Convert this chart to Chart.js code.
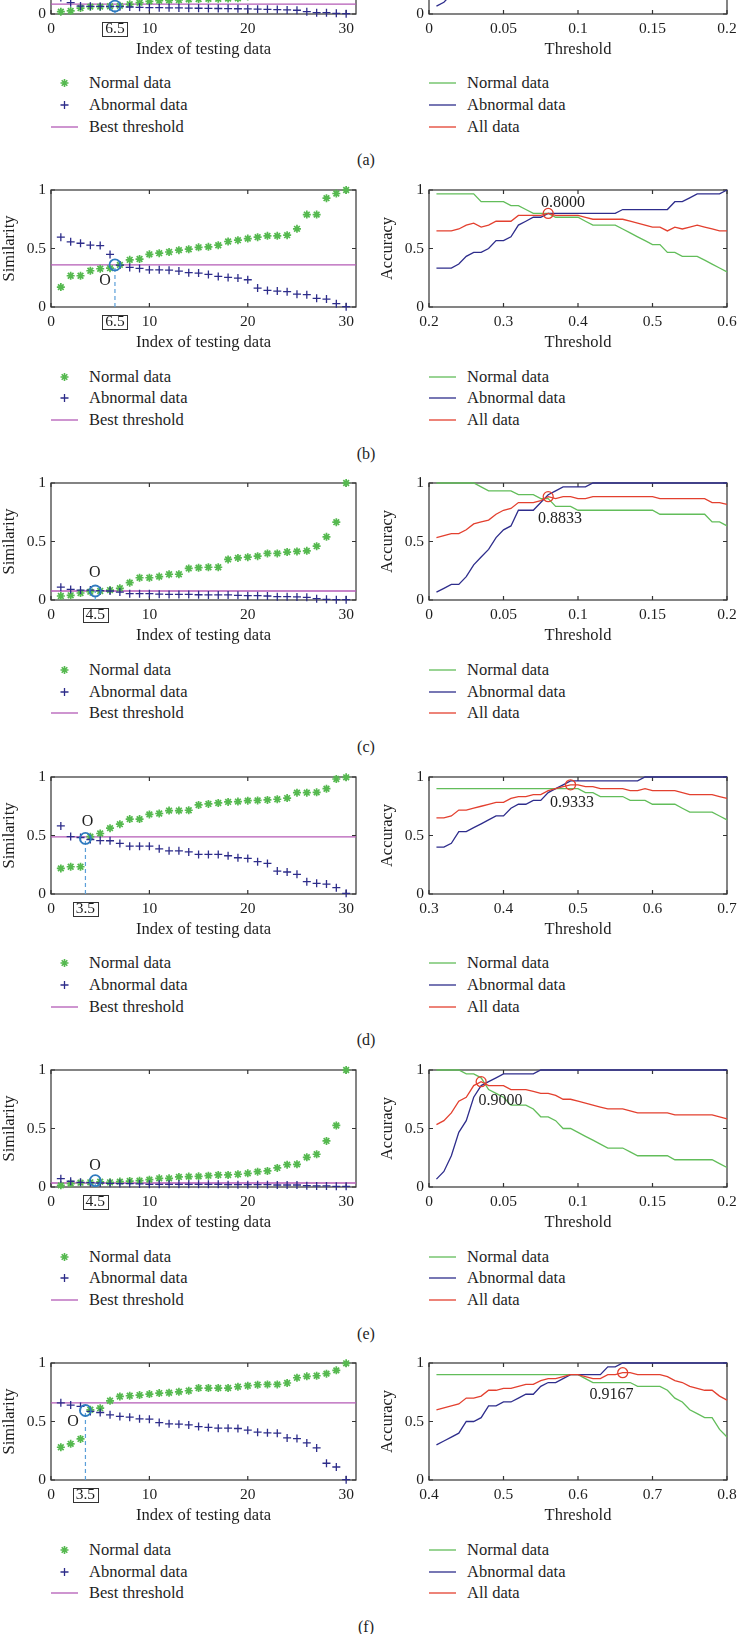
<!DOCTYPE html>
<html>
<head>
<meta charset="utf-8">
<title>Similarity and accuracy versus threshold</title>
<script src="https://cdn.jsdelivr.net/npm/chart.js@4.4.1/dist/chart.umd.min.js"></script>
<style>
  html, body { margin: 0; padding: 0; background: #fff; }
  body { width: 737px; height: 1634px; position: relative; overflow: hidden;
         font-family: 'Liberation Serif', 'DejaVu Serif', serif; color: #1e1e1e; }
  canvas { position: absolute; }
  .legend { position: absolute; font-size: 16.5px; }
  .legend .row { display: flex; align-items: center; height: 21.7px; white-space: nowrap; }
  .legend svg { width: 27px; height: 14px; margin-right: 11px; flex: none; }
  .tag { position: absolute; width: 40px; margin-left: -20px; text-align: center; font-size: 16px; line-height: 20px; }
</style>
</head>
<body>
<script>
// ---- data ----
const testIndex = [1,2,3,4,5,6,7,8,9,10,11,12,13,14,15,16,17,18,19,20,21,22,23,24,25,26,27,28,29,30];
const simTicksX = [0, 10, 20, 30];
const unitTicksY = [0, 0.5, 1];

const simNormalA   = [0.02,0.026,0.051,0.063,0.063,0.066,0.07,0.083,0.097,0.108,0.114,0.117,0.12,0.125,0.128,0.13,0.13,0.132,0.135,0.15,0.17,0.19,0.2,0.22,0.25,0.3,0.36,0.45,0.6,1.0];
const simAbnormalA = [0.14,0.097,0.068,0.066,0.065,0.064,0.063,0.06,0.057,0.055,0.054,0.053,0.052,0.05,0.049,0.048,0.047,0.046,0.045,0.043,0.041,0.04,0.038,0.035,0.032,0.02,0.011,0.011,0.006,0.003];
const simNormalB   = [0.17,0.267,0.267,0.31,0.327,0.332,0.36,0.403,0.41,0.45,0.46,0.47,0.486,0.494,0.51,0.514,0.528,0.56,0.571,0.585,0.597,0.608,0.608,0.614,0.668,0.79,0.79,0.93,0.97,1.0];
const simAbnormalB = [0.597,0.557,0.545,0.528,0.525,0.449,0.358,0.338,0.33,0.318,0.318,0.315,0.307,0.293,0.29,0.278,0.261,0.253,0.247,0.233,0.162,0.142,0.136,0.131,0.11,0.105,0.074,0.068,0.028,0.003];
const simNormalC   = [0.034,0.04,0.06,0.071,0.077,0.085,0.1,0.148,0.19,0.19,0.2,0.22,0.22,0.27,0.276,0.28,0.28,0.347,0.36,0.366,0.375,0.398,0.398,0.41,0.415,0.42,0.46,0.54,0.665,1.0];
const simAbnormalC = [0.11,0.09,0.085,0.085,0.08,0.077,0.068,0.054,0.054,0.054,0.05,0.048,0.048,0.048,0.045,0.043,0.043,0.043,0.04,0.037,0.037,0.034,0.028,0.028,0.026,0.023,0.011,0.006,0.003,0.003];
const simNormalD   = [0.219,0.233,0.233,0.49,0.517,0.563,0.597,0.64,0.64,0.68,0.688,0.713,0.713,0.716,0.761,0.77,0.778,0.787,0.79,0.798,0.8,0.804,0.81,0.82,0.866,0.866,0.869,0.9,0.983,0.997];
const simAbnormalD = [0.582,0.491,0.483,0.466,0.457,0.455,0.432,0.409,0.409,0.409,0.386,0.369,0.369,0.36,0.338,0.338,0.338,0.327,0.31,0.304,0.276,0.261,0.196,0.188,0.168,0.105,0.091,0.085,0.054,0.006];
const simNormalE   = [0.014,0.029,0.037,0.04,0.045,0.04,0.046,0.051,0.054,0.063,0.074,0.074,0.086,0.089,0.091,0.097,0.103,0.103,0.109,0.117,0.131,0.137,0.163,0.191,0.194,0.254,0.28,0.394,0.526,1.0];
const simAbnormalE = [0.071,0.049,0.04,0.037,0.034,0.031,0.029,0.029,0.026,0.023,0.023,0.023,0.023,0.023,0.023,0.023,0.023,0.02,0.02,0.02,0.02,0.02,0.017,0.017,0.017,0.011,0.009,0.009,0.006,0.006];
const simNormalF   = [0.28,0.309,0.351,0.6,0.614,0.677,0.714,0.72,0.726,0.734,0.743,0.746,0.754,0.763,0.786,0.786,0.786,0.786,0.797,0.806,0.814,0.817,0.817,0.829,0.874,0.886,0.891,0.909,0.937,0.997];
const simAbnormalF = [0.66,0.64,0.629,0.586,0.577,0.557,0.543,0.537,0.523,0.52,0.491,0.48,0.477,0.471,0.457,0.449,0.443,0.443,0.44,0.426,0.409,0.403,0.4,0.36,0.354,0.317,0.274,0.143,0.111,0.003];

const lowThresholds = [0.005,0.01,0.015,0.02,0.025,0.03,0.035,0.04,0.045,0.05,0.055,0.06,0.065,0.07,0.075,0.08,0.085,0.09,0.095,0.1,
                       0.105,0.11,0.115,0.12,0.125,0.13,0.135,0.14,0.145,0.15,0.155,0.16,0.165,0.17,0.175,0.18,0.185,0.19,0.195,0.2];
const thresholdsB = [0.21,0.22,0.23,0.24,0.25,0.26,0.27,0.28,0.29,0.3,0.31,0.32,0.33,0.34,0.35,0.36,0.37,0.38,0.39,0.4,
                     0.41,0.42,0.43,0.44,0.45,0.46,0.47,0.48,0.49,0.5,0.51,0.52,0.53,0.54,0.55,0.56,0.57,0.58,0.59,0.6];
const thresholdsD = [0.31,0.32,0.33,0.34,0.35,0.36,0.37,0.38,0.39,0.4,0.41,0.42,0.43,0.44,0.45,0.46,0.47,0.48,0.49,0.5,
                     0.51,0.52,0.53,0.54,0.55,0.56,0.57,0.58,0.59,0.6,0.61,0.62,0.63,0.64,0.65,0.66,0.67,0.68,0.69,0.7];
const thresholdsF = [0.41,0.42,0.43,0.44,0.45,0.46,0.47,0.48,0.49,0.5,0.51,0.52,0.53,0.54,0.55,0.56,0.57,0.58,0.59,0.6,
                     0.61,0.62,0.63,0.64,0.65,0.66,0.67,0.68,0.69,0.7,0.71,0.72,0.73,0.74,0.75,0.76,0.77,0.78,0.79,0.8];
const accTicksLow = [0, 0.05, 0.1, 0.15, 0.2];
const accTicksB = [0.2, 0.3, 0.4, 0.5, 0.6];
const accTicksD = [0.3, 0.4, 0.5, 0.6, 0.7];
const accTicksF = [0.4, 0.5, 0.6, 0.7, 0.8];

const accNormalA   = [1,1,1,1,1,1,1,0.967,0.967,0.933,0.933,0.9,0.9,0.867,0.867,0.833,0.833,0.8,0.8,0.8,0.767,0.767,0.767,0.733,0.733,0.733,0.7,0.7,0.7,0.7,0.667,0.667,0.667,0.633,0.633,0.633,0.6,0.6,0.6,0.567];
const accAbnormalA = [0.067,0.1,0.167,0.267,0.4,0.533,0.667,0.767,0.833,0.867,0.9,0.933,0.933,0.967,0.967,0.967,1,1,1,1,1,1,1,1,1,1,1,1,1,1,1,1,1,1,1,1,1,1,1,1];
const accAllA      = [0.533,0.55,0.583,0.633,0.7,0.767,0.833,0.867,0.9,0.9,0.917,0.917,0.917,0.917,0.917,0.9,0.917,0.9,0.9,0.9,0.883,0.883,0.883,0.867,0.867,0.867,0.85,0.85,0.85,0.85,0.833,0.833,0.833,0.817,0.817,0.817,0.8,0.8,0.8,0.783];
const accNormalB   = [0.967,0.967,0.967,0.967,0.967,0.967,0.9,0.9,0.9,0.9,0.867,0.867,0.833,0.8,0.8,0.8,0.767,0.767,0.767,0.767,0.733,0.7,0.7,0.7,0.7,0.667,0.633,0.6,0.567,0.533,0.533,0.467,0.467,0.433,0.433,0.433,0.4,0.367,0.333,0.3];
const accAbnormalB = [0.333,0.333,0.333,0.367,0.433,0.467,0.467,0.5,0.567,0.567,0.6,0.7,0.733,0.767,0.767,0.8,0.8,0.8,0.8,0.8,0.8,0.8,0.8,0.8,0.8,0.833,0.833,0.833,0.833,0.833,0.833,0.833,0.9,0.9,0.933,0.967,0.967,0.967,0.967,1];
const accAllB      = [0.65,0.65,0.65,0.667,0.7,0.717,0.683,0.7,0.733,0.733,0.733,0.783,0.783,0.783,0.783,0.8,0.783,0.783,0.783,0.783,0.767,0.75,0.75,0.75,0.75,0.75,0.733,0.717,0.7,0.683,0.683,0.65,0.683,0.667,0.683,0.7,0.683,0.667,0.65,0.65];
const accNormalC   = [1,1,1,1,1,1,0.967,0.933,0.933,0.933,0.933,0.9,0.9,0.9,0.867,0.867,0.8,0.8,0.8,0.767,0.767,0.767,0.767,0.767,0.767,0.767,0.767,0.767,0.767,0.767,0.733,0.733,0.733,0.733,0.733,0.733,0.733,0.667,0.667,0.633];
const accAbnormalC = [0.067,0.1,0.133,0.133,0.2,0.3,0.367,0.433,0.533,0.6,0.633,0.767,0.767,0.767,0.833,0.9,0.933,0.967,0.967,0.967,0.967,1,1,1,1,1,1,1,1,1,1,1,1,1,1,1,1,1,1,1];
const accAllC      = [0.533,0.55,0.567,0.567,0.6,0.65,0.667,0.683,0.733,0.767,0.783,0.833,0.833,0.833,0.85,0.883,0.867,0.883,0.883,0.867,0.867,0.883,0.883,0.883,0.883,0.883,0.883,0.883,0.883,0.883,0.867,0.867,0.867,0.867,0.867,0.867,0.867,0.833,0.833,0.817];
const accNormalD   = [0.9,0.9,0.9,0.9,0.9,0.9,0.9,0.9,0.9,0.9,0.9,0.9,0.9,0.9,0.9,0.9,0.9,0.9,0.9,0.9,0.867,0.867,0.833,0.833,0.833,0.833,0.8,0.8,0.8,0.767,0.767,0.767,0.767,0.733,0.7,0.7,0.7,0.7,0.667,0.633];
const accAbnormalD = [0.4,0.4,0.433,0.533,0.533,0.567,0.6,0.633,0.667,0.667,0.733,0.767,0.767,0.8,0.8,0.867,0.9,0.933,0.967,0.967,0.967,0.967,0.967,0.967,0.967,0.967,0.967,0.967,1,1,1,1,1,1,1,1,1,1,1,1];
const accAllD      = [0.65,0.65,0.667,0.717,0.717,0.733,0.75,0.767,0.783,0.783,0.817,0.833,0.833,0.85,0.85,0.883,0.9,0.917,0.933,0.933,0.917,0.917,0.9,0.9,0.9,0.9,0.883,0.883,0.9,0.883,0.883,0.883,0.883,0.867,0.85,0.85,0.85,0.85,0.833,0.817];
const accNormalE   = [1,1,1,1,0.967,0.967,0.933,0.833,0.8,0.767,0.7,0.7,0.7,0.667,0.6,0.6,0.567,0.5,0.5,0.467,0.433,0.4,0.367,0.333,0.333,0.333,0.3,0.267,0.267,0.267,0.267,0.267,0.233,0.233,0.233,0.233,0.233,0.233,0.2,0.167];
const accAbnormalE = [0.067,0.133,0.267,0.467,0.567,0.767,0.867,0.9,0.933,0.967,0.967,0.967,0.967,0.967,1,1,1,1,1,1,1,1,1,1,1,1,1,1,1,1,1,1,1,1,1,1,1,1,1,1];
const accAllE      = [0.533,0.567,0.633,0.733,0.767,0.867,0.9,0.867,0.867,0.867,0.833,0.833,0.833,0.817,0.8,0.8,0.783,0.75,0.75,0.733,0.717,0.7,0.683,0.667,0.667,0.667,0.65,0.633,0.633,0.633,0.633,0.633,0.617,0.617,0.617,0.617,0.617,0.617,0.6,0.583];
const accNormalF   = [0.9,0.9,0.9,0.9,0.9,0.9,0.9,0.9,0.9,0.9,0.9,0.9,0.9,0.9,0.9,0.9,0.9,0.9,0.9,0.9,0.867,0.833,0.833,0.833,0.833,0.833,0.833,0.8,0.8,0.8,0.8,0.767,0.7,0.667,0.6,0.567,0.533,0.533,0.433,0.367];
const accAbnormalF = [0.3,0.333,0.367,0.4,0.5,0.5,0.533,0.633,0.633,0.667,0.667,0.7,0.733,0.733,0.8,0.833,0.833,0.867,0.9,0.9,0.9,0.9,0.9,0.967,0.967,1,1,1,1,1,1,1,1,1,1,1,1,1,1,1];
const accAllF      = [0.6,0.617,0.633,0.65,0.7,0.7,0.717,0.767,0.767,0.783,0.783,0.8,0.817,0.817,0.85,0.867,0.867,0.883,0.9,0.9,0.883,0.867,0.867,0.9,0.9,0.917,0.917,0.9,0.9,0.9,0.9,0.883,0.85,0.833,0.8,0.783,0.767,0.767,0.717,0.683];

// per panel: best threshold line, cut index, circled point, "O" label spot, best accuracy point + its label
const panels = [
  { tag: '(a)', simN: simNormalA, simA: simAbnormalA, bestLine: 0.085, cutIndex: 6.5, cutSim: 0.068, oAt: [5.5, 0.2],
    thr: lowThresholds, accTicks: accTicksLow, accN: accNormalA, accA: accAbnormalA, accAll: accAllA, best: [0.085, 0.917], bestText: '0.9167', textAt: [0.1, 0.83] },
  { tag: '(b)', simN: simNormalB, simA: simAbnormalB, bestLine: 0.36, cutIndex: 6.5, cutSim: 0.36, oAt: [5.5, 0.227],
    thr: thresholdsB, accTicks: accTicksB, accN: accNormalB, accA: accAbnormalB, accAll: accAllB, best: [0.36, 0.8], bestText: '0.8000', textAt: [0.38, 0.89] },
  { tag: '(c)', simN: simNormalC, simA: simAbnormalC, bestLine: 0.077, cutIndex: 4.5, cutSim: 0.077, oAt: [4.44, 0.233],
    thr: lowThresholds, accTicks: accTicksLow, accN: accNormalC, accA: accAbnormalC, accAll: accAllC, best: [0.08, 0.883], bestText: '0.8833', textAt: [0.088, 0.693] },
  { tag: '(d)', simN: simNormalD, simA: simAbnormalD, bestLine: 0.489, cutIndex: 3.5, cutSim: 0.475, oAt: [3.7, 0.616],
    thr: thresholdsD, accTicks: accTicksD, accN: accNormalD, accA: accAbnormalD, accAll: accAllD, best: [0.49, 0.933], bestText: '0.9333', textAt: [0.492, 0.776] },
  { tag: '(e)', simN: simNormalE, simA: simAbnormalE, bestLine: 0.034, cutIndex: 4.5, cutSim: 0.054, oAt: [4.47, 0.18],
    thr: lowThresholds, accTicks: accTicksLow, accN: accNormalE, accA: accAbnormalE, accAll: accAllE, best: [0.035, 0.9], bestText: '0.9000', textAt: [0.048, 0.736] },
  { tag: '(f)', simN: simNormalF, simA: simAbnormalF, bestLine: 0.66, cutIndex: 3.5, cutSim: 0.594, oAt: [2.24, 0.5],
    thr: thresholdsF, accTicks: accTicksF, accN: accNormalF, accA: accAbnormalF, accAll: accAllF, best: [0.66, 0.917], bestText: '0.9167', textAt: [0.645, 0.729] }
];

// ---- styling ----
const FONT = "'Liberation Serif', 'DejaVu Serif', serif";
const INK = '#1e1e1e';
const GREEN = '#55b94f', NAVY = '#2d2c8a', MAGENTA = '#b45bb6', RING = '#2f7bbf', CUT = '#5b9fd9';
const LINE_GREEN = '#62bd5a', LINE_NAVY = '#2e2d8c', LINE_RED = '#e3402f';

Chart.defaults.font.family = FONT;
Chart.defaults.color = INK;

const pts = (xs, ys) => xs.map((x, i) => ({ x: x, y: ys[i] }));
const rowTop = r => 190 + (r - 1) * 293.33;

function xAxis(min, max, values, title) {
  return {
    type: 'linear', min: min, max: max,
    grid: { display: false, drawTicks: false }, border: { display: false },
    afterBuildTicks: s => { s.ticks = values.map(v => ({ value: v })); },
    afterFit: s => { s.height = 46; s.paddingLeft = 0; s.paddingRight = 0; },
    ticks: { autoSkip: false, maxRotation: 0, minRotation: 0, padding: 5.2, color: INK, font: { size: 15.5 }, callback: v => String(v) },
    title: { display: true, text: title, color: INK, font: { size: 16.5 }, padding: 0 }
  };
}

function yAxis(title) {
  return {
    type: 'linear', min: 0, max: 1,
    grid: { display: false, drawTicks: false }, border: { display: false },
    afterBuildTicks: s => { s.ticks = unitTicksY.map(v => ({ value: v })); },
    afterFit: s => { s.width = 51; s.paddingTop = 0; s.paddingBottom = 0; },
    ticks: { padding: 5, color: INK, font: { size: 15.5 }, callback: v => String(v) },
    title: { display: true, text: title, color: INK, font: { size: 16.5 }, padding: 0 }
  };
}

// box around the axes with inward tick marks on all four sides
function frame(skip) {
  return {
    id: 'frame',
    beforeDatasetsDraw(chart) {
      const { ctx, chartArea: a, scales: { x, y } } = chart;
      ctx.save();
      ctx.strokeStyle = '#333';
      ctx.lineWidth = 1.2;
      ctx.strokeRect(a.left, a.top, a.right - a.left, a.bottom - a.top);
      ctx.beginPath();
      x.ticks.forEach(t => {
        if (t.value === skip) return;
        const px = x.getPixelForValue(t.value);
        ctx.moveTo(px, a.bottom); ctx.lineTo(px, a.bottom - 4);
        ctx.moveTo(px, a.top); ctx.lineTo(px, a.top + 4);
      });
      y.ticks.forEach(t => {
        const py = y.getPixelForValue(t.value);
        ctx.moveTo(a.left, py); ctx.lineTo(a.left + 4, py);
        ctx.moveTo(a.right, py); ctx.lineTo(a.right - 4, py);
      });
      ctx.stroke();
      ctx.restore();
    }
  };
}

function notes(texts, boxed) {
  return {
    id: 'notes',
    afterDatasetsDraw(chart) {
      const { ctx, chartArea: a, scales: { x, y } } = chart;
      ctx.save();
      ctx.font = '16px ' + FONT;
      ctx.fillStyle = INK;
      ctx.textAlign = 'center';
      ctx.textBaseline = 'middle';
      texts.forEach(t => ctx.fillText(t.text, x.getPixelForValue(t.at[0]), y.getPixelForValue(t.at[1])));
      if (boxed !== undefined) {
        const px = x.getPixelForValue(boxed);
        ctx.strokeStyle = '#333';
        ctx.lineWidth = 1;
        ctx.strokeRect(Math.round(px - 12.5) + 0.5, Math.round(a.bottom + 8) + 0.5, 25, 14);
      }
      ctx.restore();
    }
  };
}

function makeCanvas(left, top, w, h) {
  const c = document.createElement('canvas');
  c.width = w; c.height = h;
  c.style.left = left + 'px'; c.style.top = top + 'px';
  c.style.width = w + 'px'; c.style.height = h + 'px';
  document.body.appendChild(c);
  return c;
}

function marker(kind, color) {
  let body;
  if (kind === 'star') body = '<path d="M9.5 7H17.5M13.5 3V11M10.7 4.2L16.3 9.8M16.3 4.2L10.7 9.8" stroke="' + color + '" stroke-width="1.6"/>';
  else if (kind === 'cross') body = '<path d="M9.5 7H17.5M13.5 3V11" stroke="' + color + '" stroke-width="1.3"/>';
  else body = '<path d="M0 7H27" stroke="' + color + '" stroke-width="1.3"/>';
  return '<svg viewBox="0 0 27 14">' + body + '</svg>';
}

function legend(left, top, entries) {
  const box = document.createElement('div');
  box.className = 'legend';
  box.style.left = left + 'px';
  box.style.top = top + 'px';
  entries.forEach(e => {
    const row = document.createElement('div');
    row.className = 'row';
    row.innerHTML = marker(e.kind, e.color) + '<span>' + e.label + '</span>';
    box.appendChild(row);
  });
  document.body.appendChild(box);
}

const baseOptions = {
  responsive: false, animation: false, events: [],
  plugins: { legend: { display: false }, tooltip: { enabled: false } }
};

function similarityChart(p, T) {
  const canvas = makeCanvas(0, T - 10, 370, 173);
  const xTicks = simTicksX.concat([p.cutIndex]).sort((a, b) => a - b);
  new Chart(canvas, {
    type: 'scatter',
    data: {
      datasets: [
        { label: 'Normal data', data: pts(testIndex, p.simN), pointStyle: 'star', pointRadius: 4,
          pointBorderColor: GREEN, borderColor: GREEN, pointBorderWidth: 1.7, clip: false, order: 3 },
        { label: 'Abnormal data', data: pts(testIndex, p.simA), pointStyle: 'cross', pointRadius: 4,
          pointBorderColor: NAVY, borderColor: NAVY, pointBorderWidth: 1.3, clip: false, order: 2 },
        { label: 'Best threshold', data: [{ x: 0, y: p.bestLine }, { x: 31, y: p.bestLine }], showLine: true,
          borderColor: MAGENTA, borderWidth: 1.3, pointRadius: 0, clip: false, order: 4 },
        { label: 'cut', data: [{ x: p.cutIndex, y: 0 }, { x: p.cutIndex, y: p.cutSim }], showLine: true,
          borderColor: CUT, borderWidth: 1.2, borderDash: [4, 3], pointRadius: 0, clip: false, order: 1 },
        { label: 'O', data: [{ x: p.cutIndex, y: p.cutSim }], pointStyle: 'circle', pointRadius: 5.5,
          pointBorderColor: RING, pointBackgroundColor: 'rgba(0,0,0,0)', pointBorderWidth: 1.8, clip: false, order: 0 }
      ]
    },
    options: Object.assign({}, baseOptions, {
      layout: { padding: { top: 10, right: 14, bottom: 0, left: 0 } },
      scales: { x: xAxis(0, 31, xTicks, 'Index of testing data'), y: yAxis('Similarity') }
    }),
    plugins: [frame(p.cutIndex), notes([{ text: 'O', at: p.oAt }], p.cutIndex)]
  });
  legend(51, T + 175.7, [
    { kind: 'star', color: GREEN, label: 'Normal data' },
    { kind: 'cross', color: NAVY, label: 'Abnormal data' },
    { kind: 'line', color: MAGENTA, label: 'Best threshold' }
  ]);
}

function accuracyChart(p, T) {
  const canvas = makeCanvas(378, T - 10, 359, 173);
  const ticks = p.accTicks;
  new Chart(canvas, {
    type: 'scatter',
    data: {
      datasets: [
        { label: 'Normal data', data: pts(p.thr, p.accN), showLine: true, borderColor: LINE_GREEN, borderWidth: 1.3, pointRadius: 0, clip: false, order: 3 },
        { label: 'Abnormal data', data: pts(p.thr, p.accA), showLine: true, borderColor: LINE_NAVY, borderWidth: 1.3, pointRadius: 0, clip: false, order: 2 },
        { label: 'All data', data: pts(p.thr, p.accAll), showLine: true, borderColor: LINE_RED, borderWidth: 1.3, pointRadius: 0, clip: false, order: 1 },
        { label: 'best', data: [{ x: p.best[0], y: p.best[1] }], pointStyle: 'circle', pointRadius: 5,
          pointBorderColor: LINE_RED, pointBackgroundColor: 'rgba(0,0,0,0)', pointBorderWidth: 1.3, clip: false, order: 0 }
      ]
    },
    options: Object.assign({}, baseOptions, {
      layout: { padding: { top: 10, right: 10, bottom: 0, left: 0 } },
      scales: { x: xAxis(ticks[0], ticks[ticks.length - 1], ticks, 'Threshold'), y: yAxis('Accuracy') }
    }),
    plugins: [frame(), notes([{ text: p.bestText, at: p.textAt }])]
  });
  legend(429, T + 175.7, [
    { kind: 'line', color: LINE_GREEN, label: 'Normal data' },
    { kind: 'line', color: LINE_NAVY, label: 'Abnormal data' },
    { kind: 'line', color: LINE_RED, label: 'All data' }
  ]);
}

panels.forEach((p, r) => {
  const T = rowTop(r);
  similarityChart(p, T);
  accuracyChart(p, T);
  const tag = document.createElement('div');
  tag.className = 'tag';
  tag.textContent = p.tag;
  tag.style.left = '366px';
  tag.style.top = (T + 253.8) + 'px';
  document.body.appendChild(tag);
});
</script>
</body>
</html>
